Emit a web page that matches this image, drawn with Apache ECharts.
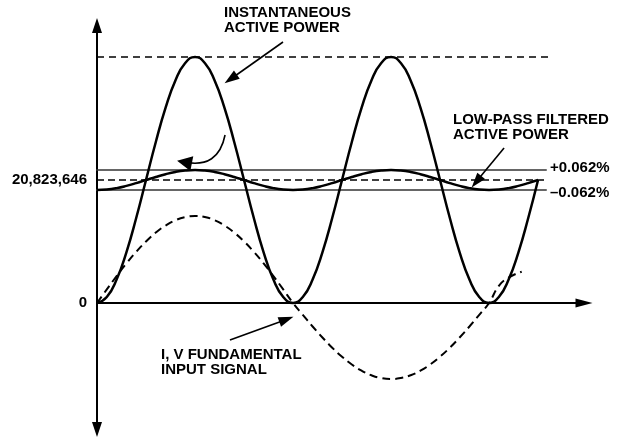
<!DOCTYPE html>
<html>
<head>
<meta charset="utf-8">
<script src="https://cdn.jsdelivr.net/npm/echarts@6/dist/echarts.min.js"></script>
<style>html,body{margin:0;padding:0;background:#fff}#c{width:623px;height:438px}</style>
</head>
<body>
<div id="c"></div>
<script>
// x in electrical degrees of the fundamental; y in millions of LSB
const powerX = [0,9,18,27,36,45,54,63,72,81,90,99,108,117,126,135,144,153,162,171,180,189,198,207,216,225,234,243,252,261,270,279,288,297,306,315,324,333,342,351,360,369,378,387,396,405];
const powerY = [0,1.02,3.98,8.58,14.39,20.82,27.26,33.07,37.67,40.63,41.65,40.63,37.67,33.07,27.26,20.82,14.39,8.58,3.98,1.02,
                0,1.02,3.98,8.58,14.39,20.82,27.26,33.07,37.67,40.63,41.65,40.63,37.67,33.07,27.26,20.82,14.39,8.58,3.98,1.02,
                0,1.02,3.98,8.58,14.39,20.82];
const lowpassY = [19.13,19.21,19.45,19.83,20.30,20.82,21.34,21.81,22.19,22.43,22.52,22.43,22.19,21.81,21.34,20.82,20.30,19.83,19.45,19.21,
                  19.13,19.21,19.45,19.83,20.30,20.82,21.34,21.81,22.19,22.43,22.52,22.43,22.19,21.81,21.34,20.82,20.30,19.83,19.45,19.21,
                  19.13,19.21,19.45,19.83,20.30,20.82];
const fundX = [0,9,18,27,36,45,54,63,72,81,90,99,108,117,126,135,144,153,162,171,180,189,198,207,216,225,234,243,252,261,270,279,288,297,306,315,324,333,342,351,360,369,378,390];
const fundY = [0,2.30,4.55,6.69,8.66,10.42,11.92,13.12,14.01,14.55,14.73,14.55,14.01,13.12,11.92,10.42,8.66,6.69,4.55,2.30,
               0,-2.01,-3.98,-5.84,-7.57,-9.10,-10.41,-11.47,-12.24,-12.71,-12.87,-12.71,-12.24,-11.47,-10.41,-9.10,-7.57,-5.84,-3.98,-2.01,
               0,2.9,4.3,5.3];
const peakLevel = 41.65;
const avgLevel = 20.823646;
const bandUpper = 22.52;
const bandLower = 19.13;
const peakLineX = [0, 416];
const avgLineX = [0, 413];
const bandLineX = [-8.3, 413];
const yTickValues = [0, 20.823646];
const yTickLabels = ['0', '20,823,646'];

const zip = (xs, ys) => xs.map((x, i) => [x, ys[i]]);
const hline = (xs, y) => xs.map(x => [x, y]);

const chart = echarts.init(document.getElementById('c'), null, {renderer: 'canvas'});
const lineBase = {type: 'line', showSymbol: false, symbol: 'none', clip: false, animation: false, silent: true};
const textStyle = {fontFamily: '"Liberation Sans", Arial, sans-serif', fontWeight: 'bold', fontSize: 15, fill: '#000', lineHeight: 15};
const arrowBase = {silent: true, animation: false, symbol: ['none', 'triangle'], symbolSize: [10, 15], label: {show: false}};

chart.setOption({
  animation: false,
  backgroundColor: '#fff',
  grid: {left: 97, right: 39, top: 25.5, bottom: 8.5, outerBoundsMode: 'none', containLabel: false},
  xAxis: {
    type: 'value', min: 0, max: 447.2,
    axisLine: {onZero: true, lineStyle: {color: '#000', width: 2}, symbol: ['none', 'triangle'], symbolSize: [9, 17]},
    axisTick: {show: false}, axisLabel: {show: false}, splitLine: {show: false}
  },
  yAxis: {
    type: 'value', min: -21.42, max: 46.98,
    axisLine: {show: true, onZero: true, lineStyle: {color: '#000', width: 2}, symbol: ['triangle', 'triangle'], symbolSize: [10, 15]},
    axisTick: {show: false},
    axisLabel: {
      show: true, margin: 10, color: '#000', fontFamily: '"Liberation Sans", Arial, sans-serif', fontWeight: 'bold', fontSize: 15,
      customValues: yTickValues,
      formatter: v => { const i = yTickValues.findIndex(t => Math.abs(t - v) < 1e-6); return i >= 0 ? yTickLabels[i] : ''; }
    },
    splitLine: {show: false}
  },
  series: [
    Object.assign({}, lineBase, {name: 'peak', data: hline(peakLineX, peakLevel), lineStyle: {color: '#000', width: 1.4, type: [7, 5]}}),
    Object.assign({}, lineBase, {name: 'upper', data: hline(bandLineX, bandUpper), lineStyle: {color: '#333', width: 1.5}}),
    Object.assign({}, lineBase, {name: 'lower', data: hline(bandLineX, bandLower), lineStyle: {color: '#333', width: 1.5}}),
    Object.assign({}, lineBase, {name: 'avg', data: hline(avgLineX, avgLevel), lineStyle: {color: '#000', width: 1.4, type: [7, 4]}}),
    Object.assign({}, lineBase, {name: 'fundamental', smooth: true, data: zip(fundX, fundY), lineStyle: {color: '#000', width: 2, type: [8, 5]},
      markLine: Object.assign({}, arrowBase, {
        lineStyle: {color: '#000', width: 1.6, type: 'solid'},
        data: [[{coord: [122.1, -6.26]}, {coord: [173.9, -2.78]}]]
      })}),
    Object.assign({}, lineBase, {name: 'lowpass', smooth: true, data: zip(powerX, lowpassY), lineStyle: {color: '#000', width: 2.5}}),
    Object.assign({}, lineBase, {name: 'power', smooth: true, data: zip(powerX, powerY), lineStyle: {color: '#000', width: 2.5},
      markLine: Object.assign({}, arrowBase, {
        lineStyle: {color: '#000', width: 1.6, type: 'solid'},
        data: [
          [{coord: [170.8, 44.19]}, {coord: [122.8, 37.92]}],
          [{coord: [373.8, 26.24]}, {coord: [348.4, 20.55]}]
        ]
      })}),
    {
      type: 'lines', coordinateSystem: 'cartesian2d', silent: true, animation: false,
      symbol: ['none', 'triangle'], symbolSize: [10, 15],
      lineStyle: {color: '#000', width: 1.6, curveness: 0.5, opacity: 1},
      data: [{coords: [[117.6, 28.44], [80.3, 23.85]]}]
    }
  ],
  graphic: [
    {type: 'text', left: 224, top: 5.5, style: Object.assign({text: 'INSTANTANEOUS\nACTIVE POWER'}, textStyle)},
    {type: 'text', left: 453, top: 112.5, style: Object.assign({text: 'LOW-PASS FILTERED\nACTIVE POWER'}, textStyle)},
    {type: 'text', left: 550, top: 160.5, style: Object.assign({text: '+0.062%'}, textStyle)},
    {type: 'text', left: 550, top: 185.5, style: Object.assign({text: '\u20130.062%'}, textStyle)},
    {type: 'text', left: 161, top: 347.5, style: Object.assign({text: 'I, V FUNDAMENTAL\nINPUT SIGNAL'}, textStyle)}
  ]
});
</script>
</body>
</html>
